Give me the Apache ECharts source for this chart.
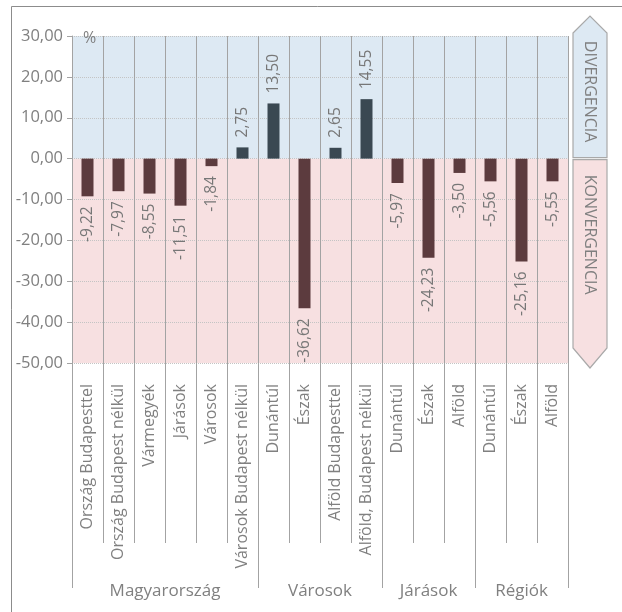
<!DOCTYPE html>
<html>
<head>
<meta charset="utf-8">
<script src="https://cdn.jsdelivr.net/npm/echarts@6/dist/echarts.min.js"></script>
<style>
  html, body { margin: 0; padding: 0; background: #fff; }
  #main { width: 622px; height: 612px; }
</style>
</head>
<body>
<div id="main"></div>
<script>
// kategóriák és csoportok
var categories = ['Ország Budapesttel', 'Ország Budapest nélkül', 'Vármegyék', 'Járások', 'Városok', 'Városok Budapest nélkül',
  'Dunántúl', 'Észak', 'Alföld Budapesttel', 'Alföld, Budapest nélkül',
  'Dunántúl', 'Észak', 'Alföld',
  'Dunántúl', 'Észak', 'Alföld'];
var values = [-9.22, -7.97, -8.55, -11.51, -1.84, 2.75, 13.50, -36.62, 2.65, 14.55, -5.97, -24.23, -3.50, -5.56, -25.16, -5.55];
var groupNames = ['Magyarország', 'Városok', 'Járások', 'Régiók'];
var groupBounds = [0, 6, 10, 13, 16];
var groupCenters = [3, 8, 11.5, 14.5];

var textColor = '#808080';
var fontFam = '"Open Sans", "Noto Sans", sans-serif';

function fmt(v) {
  return v.toFixed(2).replace('.', ',');
}

var chart = echarts.init(document.getElementById('main'));

var barData = values.map(function(v) {
  return {
    value: v,
    itemStyle: { color: v >= 0 ? '#3a4852' : '#5c3b3e' },
    label: v >= 0
      ? { position: 'top', align: 'left' }
      : { position: 'bottom', align: 'right' }
  };
});

var option = {
  backgroundColor: '#ffffff',
  animation: false,
  grid: { left: 72, right: 54, top: 36, bottom: 249 },
  xAxis: [{
    type: 'category',
    data: categories,
    z: 3,
    axisLine: { show: false, onZero: false },
    axisTick: { show: true, length: 180, lineStyle: { color: '#a3a3a3' } },
    splitLine: { show: true, lineStyle: { color: '#a3a3a3', width: 1 } },
    axisLabel: {
      interval: 0, rotate: 90, margin: 21,
      color: textColor, fontSize: 16, fontFamily: fontFam
    }
  }, {
    type: 'value',
    min: 0, max: 16,
    position: 'bottom',
    z: 3,
    axisLine: { show: false, onZero: false },
    splitLine: { show: false },
    axisTick: { show: true, customValues: groupBounds, length: 225, lineStyle: { color: '#a3a3a3' } },
    axisLabel: {
      customValues: groupCenters, margin: 220,
      color: textColor, fontSize: 17, fontFamily: fontFam,
      formatter: function(v) {
        return groupNames[groupCenters.indexOf(v)];
      }
    }
  }],
  yAxis: {
    type: 'value',
    min: -50, max: 30, interval: 10,
    z: 3,
    name: '%',
    nameLocation: 'end',
    nameGap: -10,
    nameTextStyle: { color: textColor, fontSize: 16, fontFamily: fontFam, align: 'left', padding: [0, 0, 0, 11] },
    axisLine: { show: true, lineStyle: { color: '#a3a3a3' } },
    axisTick: { show: true, length: 5, lineStyle: { color: '#a3a3a3' } },
    splitLine: { show: true, lineStyle: { color: '#c4c4c4', type: 'dotted' } },
    axisLabel: {
      color: textColor, fontSize: 16.5, fontFamily: fontFam, margin: 9,
      formatter: function(v) { return fmt(v); }
    }
  },
  series: [{
    // háttérsávok
    type: 'bar',
    z: 1,
    data: [],
    markArea: {
      silent: true,
      data: [
        [{ yAxis: 30, itemStyle: { color: '#dde9f3' } }, { yAxis: 0 }],
        [{ yAxis: 0, itemStyle: { color: '#f7e0e1' } }, { yAxis: -50 }]
      ]
    }
  }, {
    type: 'bar',
    z: 4,
    barWidth: 12,
    barGap: '-100%',
    data: barData,
    label: {
      show: true,
      rotate: 90,
      distance: 10,
      verticalAlign: 'middle',
      color: '#777777',
      fontSize: 15.5,
      fontFamily: fontFam,
      formatter: function(p) { return fmt(p.value); }
    }
  }]
};

chart.setOption(option);

// jobb oldali nyilak
var y0 = chart.convertToPixel({ yAxisIndex: 0 }, 0);
var yTop = chart.convertToPixel({ yAxisIndex: 0 }, 30);
var yBot = chart.convertToPixel({ yAxisIndex: 0 }, -50);
var ax = 573, bx = 607, mx = 590, tip = 17;

chart.setOption({
  graphic: [{
    type: 'rect',
    shape: { x: 11.5, y: 6.5, width: 700, height: 700 },
    style: { fill: 'none', stroke: '#8c8c8c', lineWidth: 1 },
    silent: true, z: 0
  }, {
    type: 'polygon',
    shape: { points: [[ax, yTop - 3], [mx, yTop - 3 - tip], [bx, yTop - 3], [bx, y0 - 1], [ax, y0 - 1]] },
    style: { fill: '#dde9f3', stroke: '#a9a9a9', lineWidth: 1.2 }
  }, {
    type: 'polygon',
    shape: { points: [[ax, y0 + 1], [bx, y0 + 1], [bx, yBot - 15], [mx, yBot + 5], [ax, yBot - 15]] },
    style: { fill: '#f7e0e1', stroke: '#a9a9a9', lineWidth: 1.2 }
  }, {
    type: 'text',
    x: mx, y: y0 - 67,
    rotation: -Math.PI / 2,
    style: { text: 'DIVERGENCIA', fill: textColor, fontSize: 16, fontFamily: fontFam, align: 'center', verticalAlign: 'middle' }
  }, {
    type: 'text',
    x: mx, y: y0 + 76,
    rotation: -Math.PI / 2,
    style: { text: 'KONVERGENCIA', fill: textColor, fontSize: 16, fontFamily: fontFam, align: 'center', verticalAlign: 'middle' }
  }]
});
</script>
</body>
</html>
